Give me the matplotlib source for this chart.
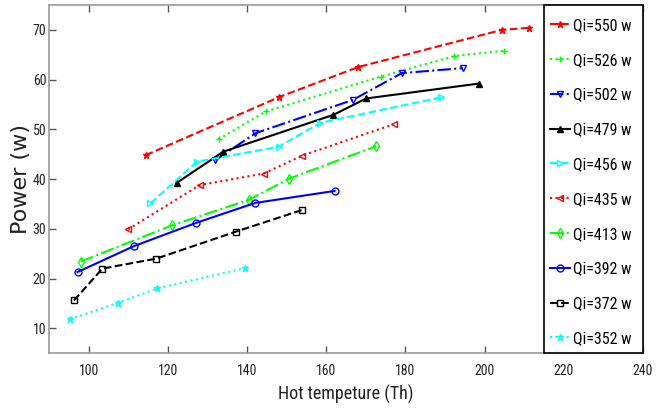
import matplotlib
matplotlib.use("Agg")
import matplotlib.pyplot as plt
from matplotlib import font_manager
from matplotlib.patches import Rectangle

_avail = {f.name for f in font_manager.fontManager.ttflist}
_cands = ['Liberation Sans Narrow', 'Roboto Condensed', 'Open Sans Condensed',
          'Arial Narrow', 'Nimbus Sans Narrow']
_narrow = [n for n in _cands if n in _avail]
if _narrow:
    narrow = [_narrow[0], 'DejaVu Sans']
    tick_fs, leg_fs, xl_fs = 10, 11.5, 13
else:
    narrow = ['Liberation Sans', 'DejaVu Sans']
    tick_fs, leg_fs, xl_fs = 8.8, 10.5, 11.5

labels = ['Qi=550 w', 'Qi=526 w', 'Qi=502 w', 'Qi=479 w', 'Qi=456 w',
          'Qi=435 w', 'Qi=413 w', 'Qi=392 w', 'Qi=372 w', 'Qi=352 w']

x550 = [114.4, 148.2, 168.0, 204.4, 211.2]
y550 = [44.8, 56.5, 62.5, 70.0, 70.4]
x526 = [132.8, 144.8, 173.8, 192.3, 204.9]
y526 = [48.0, 53.6, 60.6, 64.7, 65.8]
x502 = [132.0, 142.1, 166.7, 179.1, 194.5]
y502 = [43.8, 49.2, 55.9, 61.3, 62.3]
x479 = [122.2, 134.0, 161.8, 170.1, 198.6]
y479 = [39.2, 45.5, 52.9, 56.2, 59.2]
x456 = [115.6, 127.4, 148.0, 158.5, 189.0]
y456 = [35.1, 43.5, 46.5, 51.3, 56.4]
x435 = [110.0, 128.1, 144.2, 153.9, 177.0]
y435 = [29.9, 38.8, 41.1, 44.7, 51.0]
x413 = [98.0, 121.1, 140.4, 150.7, 172.6]
y413 = [23.4, 30.7, 35.8, 40.1, 46.6]
x392 = [97.2, 111.4, 127.2, 142.1, 162.1]
y392 = [21.3, 26.5, 31.2, 35.2, 37.6]
x372 = [96.3, 103.5, 117.1, 137.1, 154.0]
y372 = [15.6, 22.0, 24.0, 29.4, 33.8]
x352 = [95.2, 107.4, 117.3, 139.6]
y352 = [11.8, 15.1, 18.0, 22.1]

xs = [x550, x526, x502, x479, x456, x435, x413, x392, x372, x352]
ys = [y550, y526, y502, y479, y456, y435, y413, y392, y372, y352]

colors = ['#ff0000', '#00ff00', '#0000ff', '#000000', '#00ffff',
          '#ff0000', '#00ff00', '#0000ff', '#000000', '#00ffff']
styles = ['--', ':', '-.', '-', '--', ':', '-.', '-', '--', ':']
markers = ['*', '+', 'v', '^', '>', '<', 'd', 'o', 's', '*']
mfill = ['full', 'full', 'none', 'full', 'none', 'none', 'none', 'none', 'none', 'full']

fig = plt.figure(figsize=(6.65, 4.13), dpi=100)
ax = fig.add_axes([0.0737, 0.145, 0.8933, 0.843])

for x, y, c, ls, m, fs, lab in zip(xs, ys, colors, styles, markers, mfill, labels):
    ax.plot(x, y, color=c, linestyle=ls, linewidth=1.5, marker=m,
            markersize=5, fillstyle=fs, markerfacecolor=(c if fs == 'full' else 'none'),
            markeredgewidth=1.0, label=lab)

ax.set_xlim(90, 240)
ax.set_ylim(5, 75)
ax.set_xticks(range(100, 241, 20))
ax.set_yticks(range(10, 71, 10))
ax.tick_params(direction='in', top=True, right=True, length=5, width=1,
               color='#555555', labelsize=tick_fs)
ax.tick_params(axis='x', pad=8)
ax.tick_params(axis='y', pad=2)
for lab in ax.get_xticklabels() + ax.get_yticklabels():
    lab.set_family(narrow)
    lab.set_color('#222222')
for s in ax.spines.values():
    s.set_color('#9a9a9a')
    s.set_linewidth(1.2)

ax.set_xlabel('Hot tempeture (Th)', family=narrow, fontsize=xl_fs, color='#222222',
              labelpad=5)
ax.set_ylabel('Power (w)', family=['DejaVu Sans'], fontsize=16, color='#222222',
              labelpad=1)

# legend panel (frame drawn as its own box spanning the full axes height)
panel = Rectangle((0.8333, 0.0), 0.1667, 1.0, transform=ax.transAxes,
                  facecolor='white', edgecolor='black', linewidth=1.2,
                  zorder=4, clip_on=False)
ax.add_patch(panel)

leg = ax.legend(loc='upper left', bbox_to_anchor=(0.8435, 0.963),
                borderaxespad=0, frameon=False,
                prop={'family': narrow, 'size': leg_fs}, handlelength=1.25,
                handletextpad=0.2, labelspacing=1.24, borderpad=0.0,
                markerscale=1.0)
leg.set_zorder(5)

fig.savefig('out.png', dpi=100)
